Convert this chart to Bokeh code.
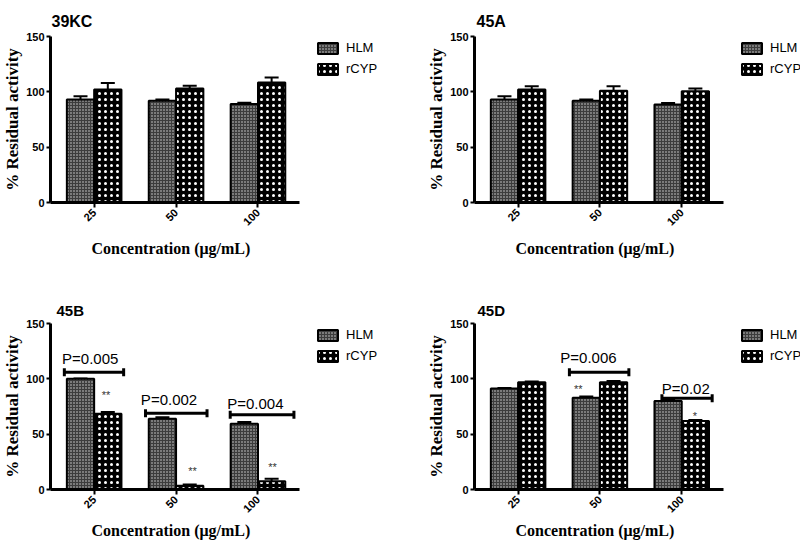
import math
from bokeh.plotting import figure
from bokeh.models import (ColumnDataSource, Whisker, TeeHead, Legend, LegendItem,
                          FixedTicker, Title)
from bokeh.layouts import row, column
from bokeh.transform import dodge
from bokeh.embed import file_html
from bokeh.resources import INLINE
from bokeh.core.properties import value

# ---------------- data ----------------
concentrations = ["25", "50", "100"]
positions = [1, 2, 3]
series = ["HLM", "rCYP"]
y_ticks = [0, 50, 100, 150]
x_title = "Concentration (\u03bcg/mL)"
y_title = "% Residual activity"

kc39_hlm = [93, 92, 89]
kc39_hlm_err = [3, 1, 1.2]
kc39_rcyp = [102, 103, 108.5]
kc39_rcyp_err = [6, 2.5, 4.5]

a45_hlm = [93, 92, 88.5]
a45_hlm_err = [3, 1, 1.5]
a45_rcyp = [102, 101, 100.5]
a45_rcyp_err = [3, 4, 2.5]

b45_hlm = [100, 64, 59.5]
b45_hlm_err = [0.4, 1.2, 1.5]
b45_rcyp = [68.5, 3.3, 7.5]
b45_rcyp_err = [1.5, 1.2, 2.2]

d45_hlm = [91.3, 83, 80]
d45_hlm_err = [0.5, 1, 1]
d45_rcyp = [97, 97, 62]
d45_rcyp_err = [0.5, 1, 0.8]

# significance annotations
b45_p_labels = ["P=0.005", "P=0.002", "P=0.004"]
b45_p_level = [106, 69, 67.5]
b45_p_from = [0.636, 1.627, 2.661]
b45_p_to = [1.36, 2.378, 3.439]
b45_p_text_x = [0.952, 1.914, 2.968]
b45_p_text_y = [118, 81.5, 78]
b45_star_labels = ["**", "**", "**"]
b45_star_x = [1.145, 2.2, 3.178]
b45_star_y = [85, 17, 20]

d45_p_labels = ["P=0.006", "P=0.02"]
d45_p_level = [106, 82.5]
d45_p_from = [1.627, 2.758]
d45_p_to = [2.354, 3.372]
d45_p_text_x = [1.86, 3.05]
d45_p_text_y = [119, 91.5]
d45_star_labels = ["**", "*"]
d45_star_x = [1.736, 3.16]
d45_star_y = [91, 66]

SANS = "Liberation Sans"
SERIF = "Liberation Serif"
AXIS_START, AXIS_END = 0.467, 3.507      # extent of the category axis
PX_PER_UNIT = 251 / (AXIS_END - AXIS_START)
FRAME_H = 166
BORDER_L, BORDER_T = 47, 36


def make_panel(title, hlm, hlm_err, rcyp, rcyp_err, width, height,
               title_standoff, title_offset, title_size, xlabel_offset, xlabel_standoff):
    frame_w = width - BORDER_L
    x_end = AXIS_START + frame_w / PX_PER_UNIT
    p = figure(width=width, height=height,
               x_range=(AXIS_START, x_end), y_range=(0, 150),
               output_backend="svg", toolbar_location=None,
               min_border_left=BORDER_L, min_border_right=0,
               min_border_top=BORDER_T, min_border_bottom=height - BORDER_T - FRAME_H)
    p.outline_line_color = None
    p.xgrid.visible = False
    p.ygrid.visible = False
    p.background_fill_color = "white"

    p.title.text = title
    p.title.text_font = SANS
    p.title.text_font_size = title_size
    p.title.text_font_style = "bold"
    p.title.text_color = "black"
    p.title.offset = title_offset
    p.title.standoff = title_standoff

    p.xaxis.bounds = (AXIS_START, AXIS_END)
    p.xaxis.ticker = FixedTicker(ticks=positions)
    p.xaxis.major_label_overrides = {pos: c for pos, c in zip(positions, concentrations)}
    p.xaxis.major_label_orientation = math.pi / 4
    p.yaxis.ticker = FixedTicker(ticks=y_ticks)
    p.yaxis.axis_label = y_title
    for ax in (p.xaxis[0], p.yaxis[0]):
        ax.axis_line_width = 3
        ax.axis_line_color = "black"
        ax.major_tick_line_width = 2
        ax.major_tick_line_color = "black"
        ax.major_tick_in = 0
        ax.major_tick_out = 4
        ax.minor_tick_line_color = None
        ax.major_label_text_font = SANS
        ax.major_label_text_font_style = "bold"
        ax.major_label_text_font_size = "11px"
        ax.major_label_text_color = "black"
        ax.axis_label_text_font = SERIF
        ax.axis_label_text_font_style = "bold"
        ax.axis_label_text_font_size = "17px"
        ax.axis_label_text_color = "black"
    p.yaxis.major_label_standoff = 2
    p.yaxis.axis_label_standoff = 1
    p.xaxis.major_tick_out = 5
    p.xaxis.major_label_standoff = 3

    # x-axis title, centred under the category axis (not the whole frame)
    p.add_layout(Title(text=x_title, align="left", offset=xlabel_offset,
                       vertical_align="top", standoff=xlabel_standoff,
                       text_font=SERIF, text_font_style="bold",
                       text_font_size="16px", text_color="black"), "below")

    src = ColumnDataSource(dict(
        x=positions,
        hlm=hlm, hlm_up=[v + e for v, e in zip(hlm, hlm_err)],
        rcyp=rcyp, rcyp_up=[v + e for v, e in zip(rcyp, rcyp_err)],
    ))
    bw = 1 / 3
    r1 = p.vbar(x=dodge('x', -bw / 2), top='hlm', width=bw, source=src,
                fill_color="#3c3c3c", line_color="black", line_width=2,
                hatch_pattern="dot", hatch_color="#d8d8d8",
                hatch_scale=3, hatch_weight=1)
    r2 = p.vbar(x=dodge('x', bw / 2), top='rcyp', width=bw, source=src,
                fill_color="black", line_color="black", line_width=2,
                hatch_pattern="dot", hatch_color="white",
                hatch_scale=6, hatch_weight=1.5)

    for key, off in (("hlm", -bw / 2), ("rcyp", bw / 2)):
        p.add_layout(Whisker(source=src, base=dodge('x', off), lower=key, upper=key + "_up",
                             line_width=2, line_color="black",
                             upper_head=TeeHead(size=14, line_width=2, line_color="black"),
                             lower_head=None))

    legend = Legend(items=[LegendItem(label=series[0], renderers=[r1]),
                           LegendItem(label=series[1], renderers=[r2])],
                    location=(265, 126), orientation="vertical",
                    border_line_color=None, background_fill_alpha=0,
                    padding=0, margin=0, spacing=6,
                    glyph_width=25, glyph_height=14, label_height=12,
                    label_standoff=6, label_text_font=SANS,
                    label_text_font_size="13px", label_text_color="black")
    p.add_layout(legend)
    return p


def add_significance(p, labels, level, x0, x1, tx, ty, stars, sx, sy):
    bsrc = ColumnDataSource(dict(y=level, x0=x0, x1=x1))
    p.add_layout(Whisker(source=bsrc, dimension="width", base="y", lower="x0", upper="x1",
                         line_width=3, line_color="black",
                         lower_head=TeeHead(size=8, line_width=3, line_color="black"),
                         upper_head=TeeHead(size=8, line_width=3, line_color="black"),
                         level="overlay"))
    p.text(x=tx, y=ty, text=labels, text_font=value(SANS), text_font_size="15px",
           text_align="center", text_baseline="alphabetic", text_color="black")
    p.text(x=sx, y=sy, text=stars, text_font=value(SANS), text_font_size="11px",
           text_align="center", text_baseline="middle", text_color="#333333")


LEFT_W, RIGHT_W = 424, 376
TOP_H, BOTTOM_H = 287, 257

p1 = make_panel("39KC", kc39_hlm, kc39_hlm_err, kc39_rcyp, kc39_rcyp_err,
                LEFT_W, TOP_H, 14, 1, "16px", 41, 14)
p2 = make_panel("45A", a45_hlm, a45_hlm_err, a45_rcyp, a45_rcyp_err,
                RIGHT_W, TOP_H, 14, 2, "16px", 41, 14)
p3 = make_panel("45B", b45_hlm, b45_hlm_err, b45_rcyp, b45_rcyp_err,
                LEFT_W, BOTTOM_H, 10, 6, "15px", 41, 4)
p4 = make_panel("45D", d45_hlm, d45_hlm_err, d45_rcyp, d45_rcyp_err,
                RIGHT_W, BOTTOM_H, 10, 3, "15px", 41, 4)

add_significance(p3, b45_p_labels, b45_p_level, b45_p_from, b45_p_to,
                 b45_p_text_x, b45_p_text_y, b45_star_labels, b45_star_x, b45_star_y)
add_significance(p4, d45_p_labels, d45_p_level, d45_p_from, d45_p_to,
                 d45_p_text_x, d45_p_text_y, d45_star_labels, d45_star_x, d45_star_y)

layout = column(row(p1, p2), row(p3, p4))

open("out.html", "w").write(file_html(layout, INLINE))
